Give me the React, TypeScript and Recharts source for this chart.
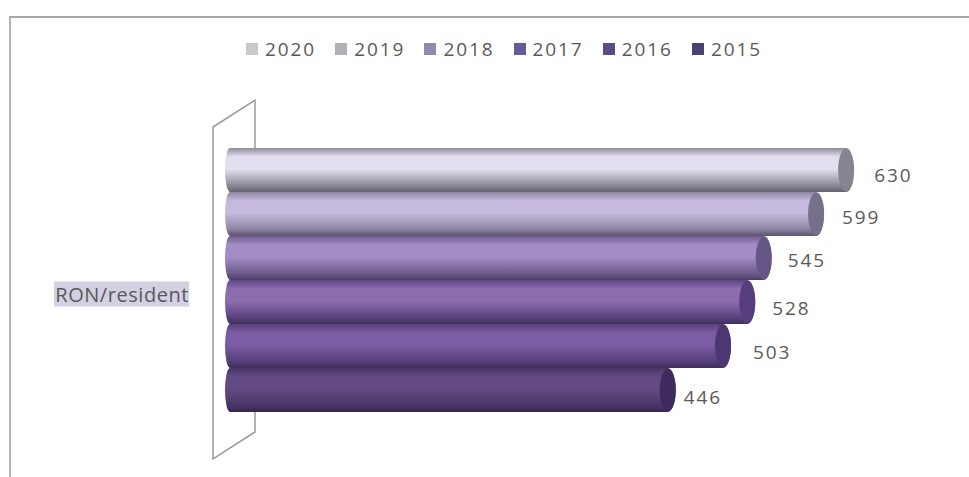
import React from "react";
import { BarChart, Bar, XAxis, YAxis, Legend, LabelList } from "recharts";

const category = "RON/resident";
const years = ["2020", "2019", "2018", "2017", "2016", "2015"];
const values = [630, 599, 545, 528, 503, 446];
const legendColors = ["#c9c9c9", "#b0b0b6", "#9189b0", "#675a9a", "#5a4a86", "#4b4072"];
const edgeTop = ["#8f8b99", "#8f86a3", "#6f5d8c", "#5c4480", "#57407a", "#4a3568"];
const bodyMid = ["#e4dff0", "#c5b9dd", "#a48cc6", "#8e6cb0", "#7d5ca6", "#634a82"];
const edgeBottom = ["#686373", "#5c5270", "#4e3d68", "#40305c", "#3e2e58", "#35264e"];
const capColors = ["#85848f", "#75718a", "#665686", "#563e7e", "#4e3672", "#3d2b5e"];
const labelLift = [5, 3, 2, 6, 6, 7];
const labelGap = [20, 18, 16, 17, 22, 8];

const row: Record<string, string | number> = { name: category };
years.forEach((y, i) => {
  row[y] = values[i];
});
const rows = [row];

const FONT = '"Open Sans", sans-serif';

function Cylinder(props: any) {
  const { x, y, width, height, background, seriesIndex } = props;
  const left = background && background.x !== undefined ? background.x : x;
  const right = x + width;
  const rx = 8;
  const lx = 5;
  const ry = height / 2;
  const top = y;
  const bottom = y + height;
  const id = `cyl-${seriesIndex}`;
  const body = `M${left + lx},${top} L${right - rx},${top} A${rx},${ry} 0 0 1 ${right - rx},${bottom} L${left + lx},${bottom} A${lx},${ry} 0 0 1 ${left + lx},${top} Z`;
  return (
    <g>
      <defs>
        <linearGradient id={id} x1="0" y1="0" x2="0" y2="1">
          <stop offset="0" stopColor={edgeTop[seriesIndex]} />
          <stop offset="0.2" stopColor={bodyMid[seriesIndex]} />
          <stop offset="0.48" stopColor={bodyMid[seriesIndex]} />
          <stop offset="0.84" stopColor={edgeTop[seriesIndex]} />
          <stop offset="1" stopColor={edgeBottom[seriesIndex]} />
        </linearGradient>
      </defs>
      <path d={body} fill={`url(#${id})`} />
      <ellipse cx={right - rx} cy={y + height / 2} rx={rx} ry={ry - 0.5} fill={capColors[seriesIndex]} />
    </g>
  );
}

function ValueLabel(props: any) {
  const { x, y, width, height, value, seriesIndex } = props;
  return (
    <text
      x={x + width + labelGap[seriesIndex]}
      y={y + height / 2 + labelLift[seriesIndex]}
      dy="0.35em"
      fill="#595959"
      fontFamily={FONT}
      fontSize={19}
      letterSpacing={1.9}
    >
      {value}
    </text>
  );
}

function CategoryTick(props: any) {
  const { x, y, payload } = props;
  return (
    <g>
      <rect x={x - 135} y={y + 1} width={135} height={25} fill="#d3d0e3" />
      <text x={x} y={y + 14} dy="0.36em" textAnchor="end" fill="#595959" fontFamily={FONT} fontSize={20} letterSpacing={0.55}>
        {payload.value}
      </text>
    </g>
  );
}

function YearLegend() {
  return (
    <div style={{ display: "flex", justifyContent: "flex-start", fontFamily: FONT, fontSize: 19, letterSpacing: 1.9, color: "#595959", marginLeft: 246, lineHeight: "26px" }}>
      {years.map((y, i) => (
        <span key={y} style={{ display: "flex", alignItems: "center", width: 89.2 }}>
          <span style={{ width: 12, height: 12, background: legendColors[i], marginRight: 7 }} />
          {y}
        </span>
      ))}
    </div>
  );
}

export default function App() {
  return (
    <div style={{ position: "absolute", left: 0, top: 0, width: 969, height: 477, background: "#fff", overflow: "hidden" }}>
      <div style={{ position: "absolute", left: 9, top: 16, width: 960, height: 461, borderLeft: "2px solid #b5b5b5", borderTop: "2px solid #a8a8a8" }} />
      <BarChart
        width={969}
        height={477}
        data={rows}
        layout="vertical"
        barCategoryGap={0}
        barGap={0}
        margin={{ top: 122, right: 47, bottom: 64, left: 0 }}
        style={{ position: "absolute" }}
      >
        <polyline points="255,148 255,100 213,127 213,459 255,432 255,412" fill="none" stroke="#9a9a9a" strokeWidth={1.5} />
        <XAxis type="number" hide domain={[-19, 700]} />
        <YAxis type="category" dataKey="name" width={225} axisLine={false} tickLine={false} tickMargin={30} tick={<CategoryTick />} />
        <Legend verticalAlign="top" align="left" height={0} wrapperStyle={{ top: 36, left: 0, width: 969 }} content={<YearLegend />} />
        {years.map((y, i) => (
          <Bar
            key={y}
            dataKey={y}
            fill={legendColors[i]}
            isAnimationActive={false}
            shape={(p: any) => <Cylinder {...p} seriesIndex={i} />}
          >
            <LabelList dataKey={y} content={(p: any) => <ValueLabel {...p} seriesIndex={i} />} />
          </Bar>
        ))}
      </BarChart>
    </div>
  );
}
